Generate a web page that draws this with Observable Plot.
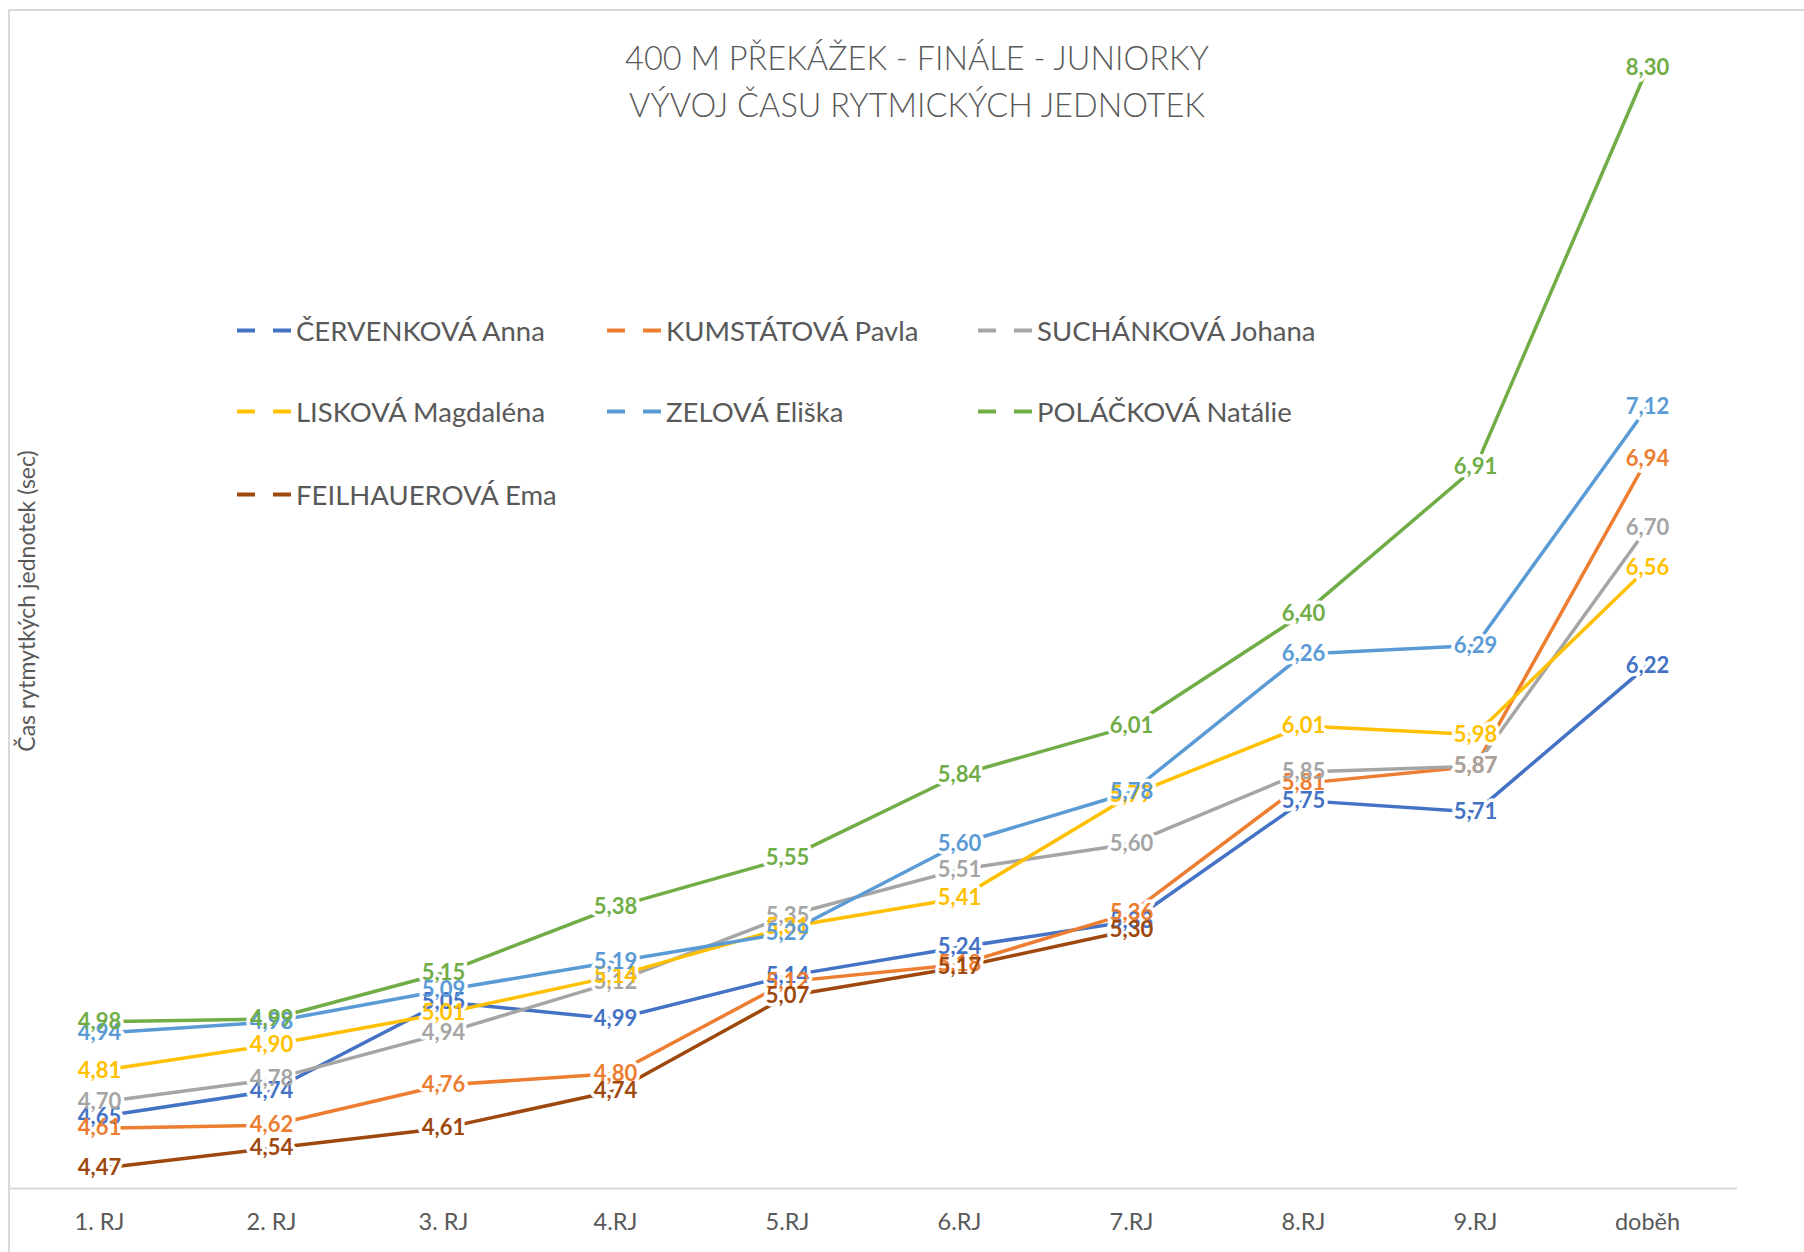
<!DOCTYPE html>
<html><head><meta charset="utf-8">
<script src="https://cdn.jsdelivr.net/npm/d3@7"></script>
<script src="https://cdn.jsdelivr.net/npm/@observablehq/plot@0.6"></script>
<style>
html,body{margin:0;padding:0;background:#fff;overflow:hidden;}
#wrap{position:relative;width:1804px;height:1252px;font-family:Lato,"Open Sans",sans-serif;}
#border{position:absolute;left:8px;top:9px;width:1900px;height:1400px;border:2px solid #D9D9D9;box-sizing:border-box;}
#plot{position:absolute;left:0;top:0;}
#title{position:absolute;left:0;top:34px;width:1834px;text-align:center;color:#595959;font-size:32.5px;font-weight:300;line-height:47px;}
.leg{position:absolute;display:flex;align-items:center;color:#595959;font-size:27.5px;white-space:nowrap;transform:translateY(-50%);}
.leg svg{margin-right:3px;}
#ytitle{position:absolute;left:26px;top:601px;transform:translate(-50%,-50%) rotate(-90deg);color:#595959;font-size:23px;white-space:nowrap;}
</style></head>
<body><div id="wrap"><div id="border"></div><div id="plot"></div><div id="title"></div><div id="ytitle"></div></div>
<script>
const titleLines = ["400 M PŘEKÁŽEK - FINÁLE - JUNIORKY", "VÝVOJ ČASU RYTMICKÝCH JEDNOTEK"];
const yTitle = "Čas rytmytkých jednotek (sec)";
const categories = ["1. RJ","2. RJ","3. RJ","4.RJ","5.RJ","6.RJ","7.RJ","8.RJ","9.RJ","doběh"];
const names = ["ČERVENKOVÁ Anna","KUMSTÁTOVÁ Pavla","SUCHÁNKOVÁ Johana","LISKOVÁ Magdaléna","ZELOVÁ Eliška","POLÁČKOVÁ Natálie","FEILHAUEROVÁ Ema"];
const colors = ["#4472C4","#ED7D31","#A5A5A5","#FFC000","#5B9BD5","#70AD47","#9E480E"];
const cervenkova   = [4.65,4.74,5.05,4.99,5.14,5.24,5.33,5.75,5.71,6.22];
const kumstatova   = [4.61,4.62,4.76,4.80,5.12,5.18,5.36,5.81,5.87,6.94];
const suchankova   = [4.70,4.78,4.94,5.12,5.35,5.51,5.60,5.85,5.87,6.70];
const liskova      = [4.81,4.90,5.01,5.14,5.31,5.41,5.77,6.01,5.98,6.56];
const zelova       = [4.94,4.98,5.09,5.19,5.29,5.60,5.78,6.26,6.29,7.12];
const polackova    = [4.98,4.99,5.15,5.38,5.55,5.84,6.01,6.40,6.91,8.30];
const feilhauerova = [4.47,4.54,4.61,4.74,5.07,5.17,5.30,null,null,null];
const seriesValues = [cervenkova,kumstatova,suchankova,liskova,zelova,polackova,feilhauerova];

const data = [];
seriesValues.forEach((vals, si) => vals.forEach((v, i) => {
  if (v != null) data.push({name: names[si], cat: categories[i], v});
}));
const fmt = v => v.toFixed(2).replace(".", ",");

const labelOpts = {x: "cat", y: "v", text: d => fmt(d.v), fontWeight: "bold", fontSize: 22};
const plot = Plot.plot({
  width: 1804, height: 1252,
  marginLeft: 9, marginRight: 67, marginTop: 10, marginBottom: 64,
  x: {type: "point", domain: categories, padding: 0.5, label: null},
  y: {domain: [4.4, 8.5], axis: null},
  color: {domain: names, range: colors},
  style: {fontFamily: "Lato, 'Open Sans', sans-serif", background: "transparent", overflow: "visible"},
  marks: [
    Plot.ruleY([4.4], {stroke: "#D9D9D9", strokeWidth: 2}),
    Plot.axisX({tickSize: 0, tickPadding: 25, fontSize: 23.5, color: "#595959", fill: "#595959", label: null}),
    Plot.line(data, {x: "cat", y: "v", z: "name", stroke: "name", strokeWidth: 3.5}),
    Plot.text(data, {...labelOpts, fill: "white", stroke: "white", strokeWidth: 7}),
    Plot.text(data, {...labelOpts, fill: "name"})
  ]
});
document.getElementById("plot").appendChild(plot);

document.getElementById("title").innerHTML = titleLines.map(t => `<div>${t}</div>`).join("");
document.getElementById("ytitle").textContent = yTitle;

const legX = [237, 607, 978];
const legY = [330, 411, 494];
const wrap = document.getElementById("wrap");
names.forEach((n, i) => {
  const d = document.createElement("div");
  d.className = "leg";
  d.style.left = legX[i % 3] + "px";
  d.style.top = legY[Math.floor(i / 3)] + "px";
  d.innerHTML = `<svg width="56" height="10"><line x1="0" y1="5" x2="56" y2="5" stroke="${colors[i]}" stroke-width="4" stroke-dasharray="18 18"/></svg><span>${n}</span>`;
  wrap.appendChild(d);
});
</script></body></html>
